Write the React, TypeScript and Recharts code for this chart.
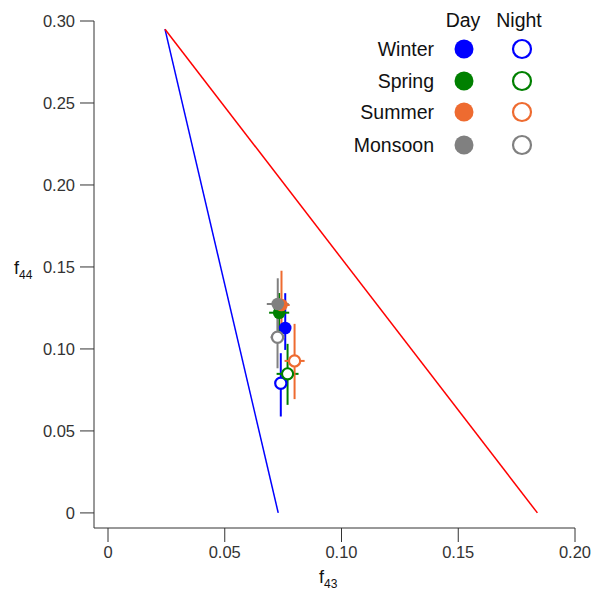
import React from "react";
import { ScatterChart, Scatter, XAxis, YAxis, ErrorBar } from "recharts";

// triangle boundaries (f43, f44)
const blueEdge = [
    { x: 0.0244, y: 0.295 },
    { x: 0.0729, y: 0 },
];
const redEdge = [
    { x: 0.0244, y: 0.295 },
    { x: 0.1839, y: 0 },
];

// seasons, day and night means with errors ([lower, upper])
const seasons = ["Winter", "Spring", "Summer", "Monsoon"];
const seasonColors = ["#0000ff", "#008000", "#ee6b30", "#808080"];

const dayF43 = [0.0759, 0.0733, 0.0743, 0.0727];
const dayF44 = [0.1128, 0.1221, 0.1268, 0.1274];
const dayErrX = [0.002, 0.0043, 0.0035, 0.0047];
const dayErrY = [[0.0134, 0.0212], [0.012, 0.012], [0.021, 0.0209], [0.016, 0.0157]];

const nightF43 = [0.074, 0.0769, 0.0799, 0.0726];
const nightF44 = [0.0791, 0.0848, 0.0927, 0.1071];
const nightErrX = [0.002, 0.0047, 0.0043, 0.003];
const nightErrY = [[0.0203, 0.0183], [0.0189, 0.0183], [0.0233, 0.0226], [0.0189, 0.019]];

const xTicks = [0, 0.05, 0.1, 0.15, 0.2];
const yTicks = [0, 0.05, 0.1, 0.15, 0.2, 0.25, 0.3];

const FONT = "'Liberation Sans', Arial, sans-serif";

const fmt = (v: number) => (v === 0 ? "0" : v.toFixed(2));

const Empty = () => <g />;

const filledDot = (color: string) => (props: any) => (
    <circle cx={props.cx} cy={props.cy} r={6.3} fill={color} />
);
const openDot = (color: string) => (props: any) => (
    <circle cx={props.cx} cy={props.cy} r={5.6} fill="#fff" stroke={color} strokeWidth={2.2} />
);

const App: React.FC = () => {
    const dayData = seasons.map((s, i) => [
        { x: dayF43[i], y: dayF44[i], ex: dayErrX[i], ey: dayErrY[i] },
    ]);
    const nightData = seasons.map((s, i) => [
        { x: nightF43[i], y: nightF44[i], ex: nightErrX[i], ey: nightErrY[i] },
    ]);

    return (
        <div style={{ position: "absolute", left: 0, top: 0, width: 597, height: 594, fontFamily: FONT }}>
            <ScatterChart width={597} height={594} margin={{ top: 21, right: 22, bottom: 6, left: 34 }}>
                <XAxis
                    type="number"
                    dataKey="x"
                    domain={[-0.006, 0.2]}
                    ticks={xTicks}
                    tickFormatter={fmt}
                    height={60}
                    tickSize={14}
                    tickMargin={4}
                    allowDataOverflow
                    stroke="#333"
                    tick={{ fill: "#333", fontSize: 16.5, fontFamily: FONT }}
                />
                <YAxis
                    type="number"
                    dataKey="y"
                    domain={[-0.0092, 0.3]}
                    ticks={yTicks}
                    tickFormatter={fmt}
                    width={60}
                    tickSize={14}
                    tickMargin={5}
                    allowDataOverflow
                    stroke="#333"
                    tick={{ fill: "#333", fontSize: 16.5, fontFamily: FONT }}
                />
                <Scatter data={blueEdge} line={{ stroke: "#0000ff", strokeWidth: 1.5 }} shape={Empty} isAnimationActive={false} />
                <Scatter data={redEdge} line={{ stroke: "#ff0000", strokeWidth: 1.5 }} shape={Empty} isAnimationActive={false} />
                {seasons.map((s, i) => (
                    <Scatter key={`day-${s}`} data={dayData[i]} shape={filledDot(seasonColors[i])} isAnimationActive={false}>
                        <ErrorBar dataKey="ey" direction="y" width={0} stroke={seasonColors[i]} strokeWidth={2} />
                        <ErrorBar dataKey="ex" direction="x" width={0} stroke={seasonColors[i]} strokeWidth={2} />
                    </Scatter>
                ))}
                {seasons.map((s, i) => (
                    <Scatter key={`night-${s}`} data={nightData[i]} shape={openDot(seasonColors[i])} isAnimationActive={false}>
                        <ErrorBar dataKey="ey" direction="y" width={0} stroke={seasonColors[i]} strokeWidth={2} />
                        <ErrorBar dataKey="ex" direction="x" width={0} stroke={seasonColors[i]} strokeWidth={2} />
                    </Scatter>
                ))}
            </ScatterChart>

            {/* legend and axis titles */}
            <svg width={597} height={594} style={{ position: "absolute", left: 0, top: 0, pointerEvents: "none" }}>
                <text x={463} y={27} fontSize={19.5} textAnchor="middle" fill="#111" fontFamily={FONT}>Day</text>
                <text x={519} y={27} fontSize={19.5} textAnchor="middle" fill="#111" fontFamily={FONT}>Night</text>
                {seasons.map((s, i) => {
                    const cy = [49, 81, 112, 145][i];
                    return (
                        <g key={s}>
                            <text x={434} y={cy + 7} fontSize={19.5} textAnchor="end" fill="#111" fontFamily={FONT}>{s}</text>
                            <circle cx={464} cy={cy} r={9.5} fill={seasonColors[i]} />
                            <circle cx={522} cy={cy} r={9} fill="#fff" stroke={seasonColors[i]} strokeWidth={2.2} />
                        </g>
                    );
                })}
                <text x={14} y={274} fontSize={18} fill="#111" fontFamily={FONT}>
                    f<tspan fontSize={12} dy={5}>44</tspan>
                </text>
                <text x={319} y={583} fontSize={18} fill="#111" fontFamily={FONT}>
                    f<tspan fontSize={12} dy={5}>43</tspan>
                </text>
            </svg>
        </div>
    );
};

export default App;
